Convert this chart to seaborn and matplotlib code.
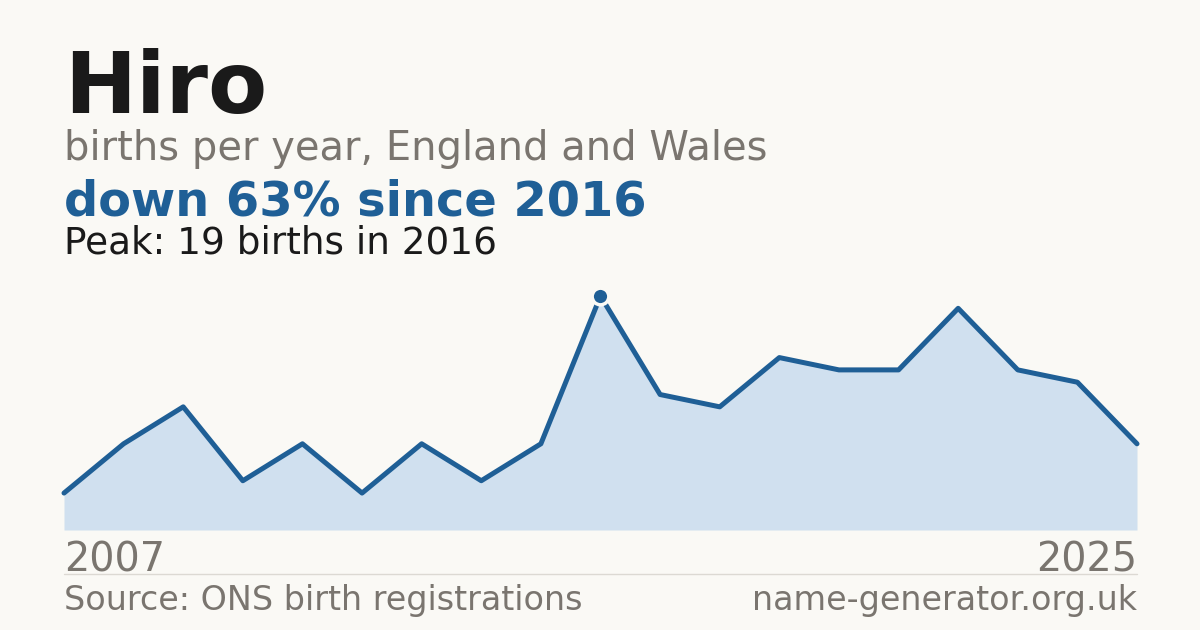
"""Hiro - births per year, England and Wales (2007-2025)."""
import matplotlib
matplotlib.use("Agg")
import matplotlib.pyplot as plt
import pandas as pd
import seaborn as sns
from matplotlib.lines import Line2D

years = list(range(2007, 2026))
births = [3, 7, 10, 4, 7, 3, 7, 4, 7, 19, 11, 10, 14, 13, 13, 18, 13, 12, 7]

name = "Hiro"
subtitle = "births per year, England and Wales"
headline = "down 63% since 2016"
peak_note = "Peak: 19 births in 2016"
source = "Source: ONS birth registrations"
site = "name-generator.org.uk"

BG = "#faf9f5"
BLUE = "#1f5f96"
FILL = "#d0e0ef"
GREY = "#7a756f"
DARK = "#1a1a1a"

sns.set_theme(style="white")
plt.rcParams["font.family"] = ["DejaVu Sans"]

df = pd.DataFrame({"year": years, "births": births})

fig = plt.figure(figsize=(12, 6.3), dpi=100, facecolor=BG)
ax = fig.add_axes([64 / 1200, 100 / 630, (1137 - 64) / 1200, 234 / 630])
ax.set_facecolor(BG)

ax.fill_between(df["year"], df["births"], 0, color=FILL, linewidth=0)
sns.lineplot(data=df, x="year", y="births", ax=ax, color=BLUE, linewidth=3.6,
             clip_on=False)

peak = df.loc[df["births"].idxmax()]
ax.plot(peak["year"], peak["births"], marker="o", ms=12, color=BLUE,
        mec=BG, mew=2.5, clip_on=False, zorder=5)

ax.set_xlim(years[0], years[-1])
ax.set_ylim(0, max(births))
ax.axis("off")

# header texts
fig.text(64 / 1200, 1 - 113 / 630, name, fontsize=62, fontweight="bold", color=DARK)
fig.text(64 / 1200, 1 - 160 / 630, subtitle, fontsize=28.8, color=GREY)
fig.text(64 / 1200, 1 - 215 / 630, headline, fontsize=34.5, fontweight="bold", color=BLUE)
fig.text(64 / 1200, 1 - 253 / 630, peak_note, fontsize=26.9, color=DARK)

# year labels
fig.text(64 / 1200, 1 - 571 / 630, str(years[0]), fontsize=28.6, color=GREY)
fig.text(1137 / 1200, 1 - 571 / 630, str(years[-1]), fontsize=28.6, color=GREY, ha="right")

# divider
fig.add_artist(Line2D([64 / 1200, 1137 / 1200], [1 - 574 / 630, 1 - 574 / 630],
                      color="#dcd9d3", linewidth=1))

# footer
fig.text(64 / 1200, 1 - 610 / 630, source, fontsize=24, color=GREY)
fig.text(1137 / 1200, 1 - 610 / 630, site, fontsize=24, color=GREY, ha="right")

fig.savefig("out.png", dpi=100, facecolor=BG)
